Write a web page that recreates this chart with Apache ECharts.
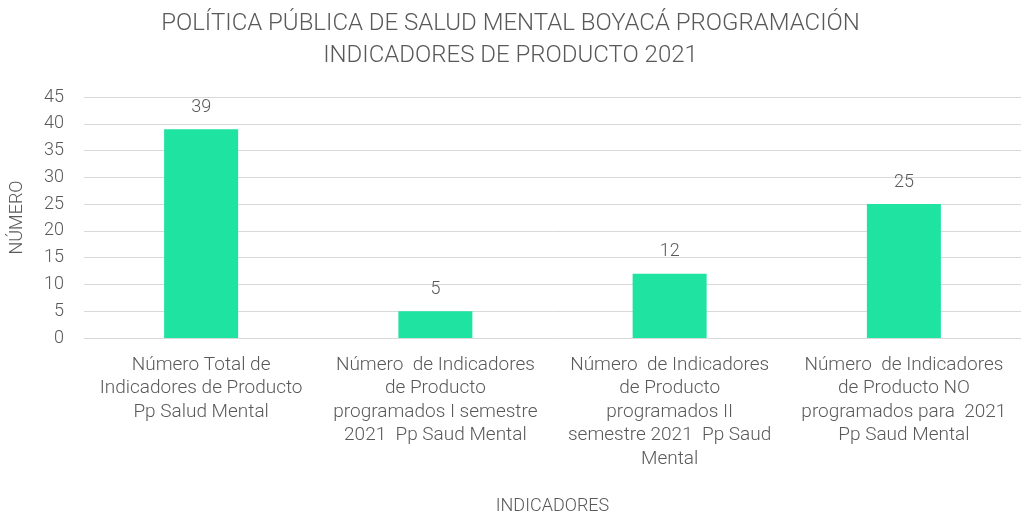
<!DOCTYPE html>
<html>
<head>
    <meta charset="UTF-8">
    <title>Salud Mental Boyacá</title>
</head>
<style>
    html, body { margin:0; padding:0; background:#fff; }
    #chart { width:1021px; height:516px; }
</style>
<body>
<div id="chart"></div>
<script src="https://cdn.jsdelivr.net/npm/echarts@6/dist/echarts.min.js"></script>
<script>
    // datos
    var categories = [
        'Número Total de\nIndicadores de Producto\nPp Salud Mental',
        'Número  de Indicadores\nde Producto\nprogramados I semestre\n2021  Pp Saud Mental',
        'Número  de Indicadores\nde Producto\nprogramados II\nsemestre 2021  Pp Saud\nMental',
        'Número  de Indicadores\nde Producto NO\nprogramados para  2021\nPp Saud Mental'
    ];
    var values = [39, 5, 12, 25];
    var yTicks = [0, 45, 5]; // min, max, interval

    var txt = '#595959';
    var fontName = 'Roboto';
    var weight = 300;

    var chart = echarts.init(document.getElementById('chart'));
    var option = {
        backgroundColor: '#fff',
        textStyle: { fontFamily: fontName, fontWeight: weight },
        title: {
            text: 'POLÍTICA PÚBLICA DE SALUD MENTAL BOYACÁ PROGRAMACIÓN\nINDICADORES DE PRODUCTO 2021',
            left: 'center',
            top: 3,
            textStyle: { color: txt, fontSize: 24, fontWeight: weight, lineHeight: 32, fontFamily: fontName }
        },
        grid: { left: 82, top: 97, width: 943, height: 241, containLabel: false },
        xAxis: {
            type: 'category',
            data: categories,
            name: 'INDICADORES',
            nameLocation: 'middle',
            nameGap: 159,
            nameTextStyle: { color: txt, fontSize: 18, fontWeight: weight },
            axisLine: { lineStyle: { color: '#d9d9d9' } },
            axisTick: { show: false },
            axisLabel: { color: txt, fontSize: 19, fontWeight: weight, lineHeight: 23.5, interval: 0, margin: 15 }
        },
        yAxis: {
            type: 'value',
            min: yTicks[0],
            max: yTicks[1],
            interval: yTicks[2],
            name: 'NÚMERO',
            nameLocation: 'middle',
            nameGap: 58,
            nameRotate: 90,
            nameTextStyle: { color: txt, fontSize: 18, fontWeight: weight },
            axisLine: { show: false },
            axisTick: { show: false },
            axisLabel: { color: txt, fontSize: 18, fontWeight: weight, margin: 20 },
            splitLine: { lineStyle: { color: '#d9d9d9' } }
        },
        series: [{
            type: 'bar',
            data: values,
            barWidth: 74,
            itemStyle: { color: '#1fe3a1' },
            label: { show: true, position: 'top', color: txt, fontSize: 18, fontWeight: weight, distance: 13 }
        }]
    };
    chart.setOption(option);
</script>
</body>
</html>
